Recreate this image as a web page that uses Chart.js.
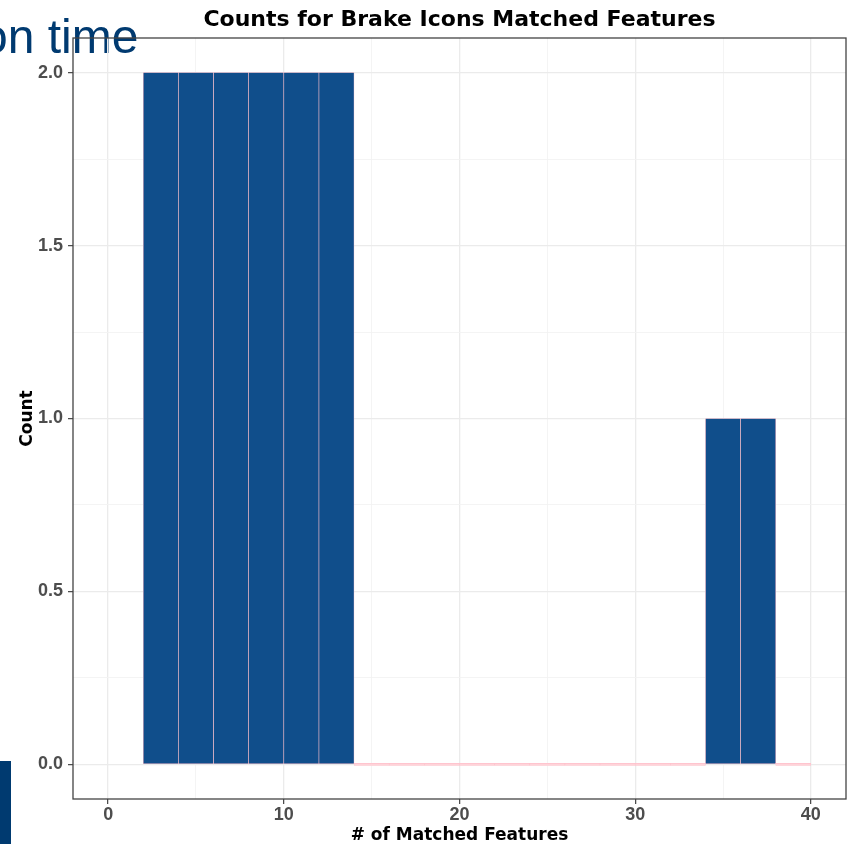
<!DOCTYPE html>
<html>
<head>
<meta charset="utf-8">
<script src="https://cdn.jsdelivr.net/npm/chart.js@4"></script>
<style>
  html, body { margin: 0; padding: 0; background: #fff; }
  canvas { display: block; }
</style>
</head>
<body>
<canvas id="hist" width="848" height="844"></canvas>
<script>
// histogram bins, width 2, lower edges
const binStarts = [2, 4, 6, 8, 10, 12, 14, 16, 18, 20, 22, 24, 26, 28, 30, 32, 34, 36, 38];
const counts    = [2, 2, 2, 2, 2, 2, 0, 0, 0, 0, 0, 0, 0, 0, 0, 0, 1, 1, 0];
const binWidth = 2;
const xMajorTicks = [0, 10, 20, 30, 40];
const yMajorTicks = [0, 0.5, 1, 1.5, 2];

const NAVY = "#003a70";
const FILL = "#104E8B";
const PINK = "#ffc0cb";

// slide remnants around the plot + panel border
const overlay = {
    id: "overlay",
    beforeDraw(chart) {
        const c = chart.ctx;
        c.save();
        c.fillStyle = NAVY;
        c.font = "48px 'Liberation Sans', Arial, sans-serif";
        c.textBaseline = "alphabetic";
        c.fillText("on time", -19, 53);
        c.fillRect(0, 761, 11, 83);
        c.restore();
    },
    afterDatasetsDraw(chart) {
        const a = chart.chartArea;
        const c = chart.ctx;
        c.save();
        c.strokeStyle = "#444";
        c.lineWidth = 1.3;
        c.strokeRect(a.left, a.top, a.right - a.left, a.bottom - a.top);
        c.restore();
    },
};

const isMajor = (list, c) => {
    const v = c && c.tick ? c.tick.value : null;
    return v !== null && list.some((m) => Math.abs(m - v) < 1e-9);
};
const tickFont = { family: "'Liberation Sans', Arial, sans-serif", size: 18, weight: "bold" };
const titleFont = { family: "'DejaVu Sans', sans-serif", size: 17, weight: "bold" };

const gridFor = (majors) => ({
    offset: false,
    color: (c) => (isMajor(majors, c) ? "#ebebeb" : "#f3f3f3"),
    lineWidth: (c) => (isMajor(majors, c) ? 1.3 : 0.9),
    tickLength: 5,
    tickColor: (c) => (isMajor(majors, c) ? "#444" : "rgba(0,0,0,0)"),
    tickWidth: 1.2,
});

const ctx = document.getElementById("hist").getContext("2d");
new Chart(ctx, {
    type: "bar",
    data: {
        datasets: [
            {
                data: binStarts.map((b, i) => ({ x: b + binWidth / 2, y: counts[i] })),
                backgroundColor: (c) => (c.raw && c.raw.y === 0 ? "#ffd3d9" : FILL),
                borderColor: PINK,
                borderWidth: 0.6,
                borderSkipped: false,
                minBarLength: 2,
                barPercentage: 1,
                categoryPercentage: 1,
                grouped: false,
            },
        ],
    },
    options: {
        responsive: false,
        animation: false,
        layout: { padding: { right: 2 } },
        plugins: {
            legend: { display: false },
            tooltip: { enabled: false },
            title: {
                display: true,
                fullSize: false,
                text: "Counts for Brake Icons Matched Features",
                color: "#000",
                font: { family: "'DejaVu Sans', sans-serif", size: 22, weight: "bold" },
                padding: { top: 7, bottom: 4.6 },
            },
        },
        scales: {
            x: {
                type: "linear",
                offset: false,
                min: -2,
                max: 42,
                afterFit: (s) => { s.height = 45; },
                ticks: {
                    stepSize: 5,
                    includeBounds: false,
                    autoSkip: false,
                    maxRotation: 0,
                    padding: 0,
                    color: "#4d4d4d",
                    font: tickFont,
                    callback: (v) => (xMajorTicks.includes(v) ? String(v) : ""),
                },
                grid: gridFor(xMajorTicks),
                border: { display: false },
                title: {
                    display: true,
                    text: "# of Matched Features",
                    color: "#000",
                    font: titleFont,
                    padding: { top: 0, bottom: -2 },
                },
            },
            y: {
                min: -0.1,
                max: 2.1,
                afterFit: (s) => { s.width = 73; },
                ticks: {
                    stepSize: 0.25,
                    includeBounds: false,
                    autoSkip: false,
                    padding: 5,
                    color: "#4d4d4d",
                    font: tickFont,
                    callback: (v) => (yMajorTicks.some((m) => Math.abs(m - v) < 1e-9) ? v.toFixed(1) : ""),
                },
                grid: gridFor(yMajorTicks),
                border: { display: false },
                title: {
                    display: true,
                    text: "Count",
                    color: "#000",
                    font: titleFont,
                    padding: { top: 17, bottom: 0 },
                },
            },
        },
    },
    plugins: [overlay],
});
</script>
</body>
</html>
